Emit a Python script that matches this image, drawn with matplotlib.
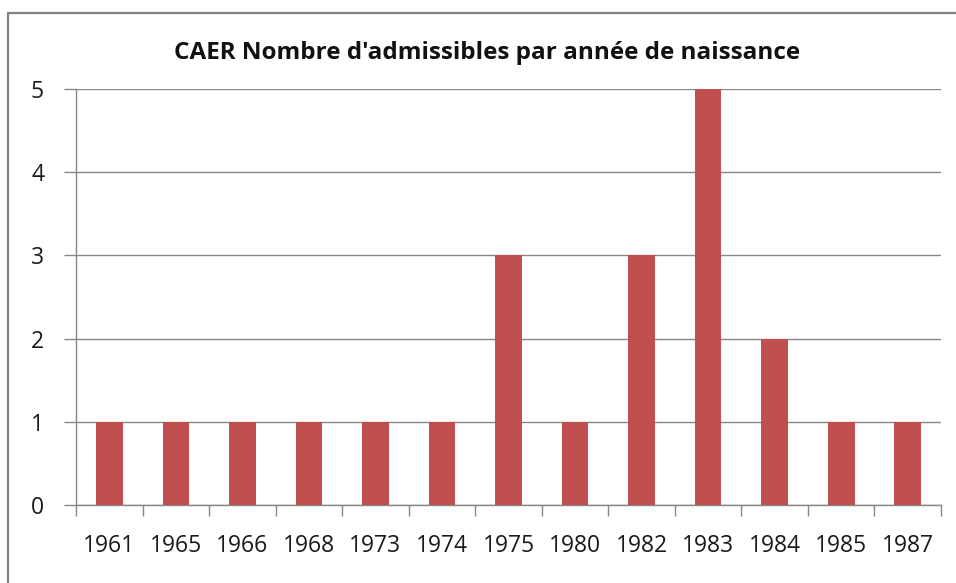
import numpy as np
import matplotlib
matplotlib.use("Agg")
import matplotlib.pyplot as plt
from matplotlib.patches import Rectangle

years = ["1961", "1965", "1966", "1968", "1973", "1974", "1975",
         "1980", "1982", "1983", "1984", "1985", "1987"]
counts = [1, 1, 1, 1, 1, 1, 3, 1, 3, 5, 2, 1, 1]

plt.rcParams["font.family"] = ["Open Sans", "DejaVu Sans"]
GRID = "#878787"
W, H = 956, 583

fig = plt.figure(figsize=(W / 100, H / 100), dpi=100)
ax = fig.add_axes([76 / W, 1 - 505 / H, (941 - 76) / W, (505 - 89) / H])

x = np.arange(len(years))
ax.bar(x, counts, width=0.4, color="#C0504D", zorder=3)

ax.set_xlim(-0.5, len(years) - 0.5)
ax.set_ylim(0, 5)
ax.set_yticks(range(6))
ax.yaxis.grid(True, color=GRID, lw=1.0)
ax.set_axisbelow(True)

# category labels centred, tick marks on the boundaries
ax.set_xticks(x)
ax.set_xticklabels(years, fontsize=16.5, color="#1a1a1a")
ax.tick_params(axis="x", length=0, pad=21)
ax.set_xticks(np.arange(-0.5, len(years)), minor=True)
ax.tick_params(axis="x", which="minor", length=8, color=GRID, width=1)
ax.tick_params(axis="y", length=9, color=GRID, width=1, labelsize=16.5,
               labelcolor="#1a1a1a", pad=14)

for s in ("top", "right"):
    ax.spines[s].set_visible(False)
for s in ("left", "bottom"):
    ax.spines[s].set_color(GRID)
    ax.spines[s].set_linewidth(1.0)

fig.text(487 / W, 1 - 53 / H, "CAER Nombre d'admissibles par année de naissance",
         ha="center", va="center", fontsize=17.5, fontweight="bold", color="#111111")

# chart area frame
fig.patches.append(Rectangle((8 / W, -0.05), 1.2, 1 - 13 / H + 0.05,
                             transform=fig.transFigure, fill=False,
                             edgecolor="#828282", lw=1.6))

fig.savefig("out.png", dpi=100)
